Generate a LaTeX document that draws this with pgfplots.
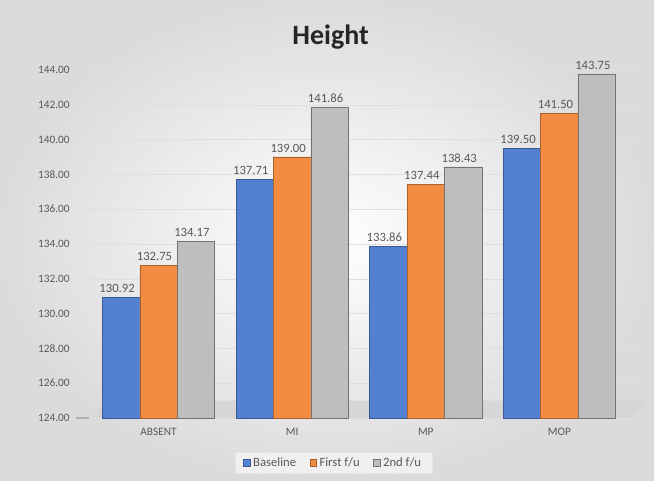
\documentclass[border=0pt]{standalone}
\usepackage{pgfplots}
\pgfplotsset{compat=1.18}
\usepackage{fontspec}
\setmainfont{Carlito}
\definecolor{cblue}{RGB}{84,128,210}
\definecolor{corange}{RGB}{242,140,66}
\definecolor{cgray}{RGB}{190,190,190}
\definecolor{txt}{RGB}{89,89,89}
\begin{document}
\begin{tikzpicture}
\shade[inner color=white, outer color=gray!28] (0,0) rectangle (490.5pt,360.75pt);
\node[font=\bfseries\fontsize{21}{24}\selectfont, text=black!85] at (248pt,333pt) {Height};
\begin{axis}[
  at={(63.75pt,47.25pt)}, anchor=south west,
  scale only axis, width=416pt, height=261pt,
  xmin=-0.55, xmax=3.6, ymin=124, ymax=144,
  ytick={124,126,...,144},
  yticklabel={\pgfmathprintnumber[fixed,fixed zerofill,precision=2]{\tick}},
  /pgf/number format/assume math mode=true,
  xtick=data, xticklabels={ABSENT,MI,MP,MOP},
  ybar=0pt, bar width=0.28,
  axis line style={draw=none},
  major tick length=0pt,
  ymajorgrids, grid style={gray!25},
  tick label style={font=\fontsize{8.5}{10}\selectfont, text=txt},
  yticklabel style={xshift=-8pt},
  xticklabel style={yshift=-4pt},
  clip=false,
  nodes near coords={\pgfmathprintnumber[fixed,fixed zerofill,precision=2]{\pgfplotspointmeta}},
  nodes near coords style={font=\fontsize{9.5}{11}\selectfont, text=txt, xshift=-3pt},
  legend style={at={(0.448,-0.129)}, anchor=center, legend columns=3,
    fill=gray!12, draw=gray!20, font=\fontsize{9.5}{11}\selectfont, text=txt,
    inner xsep=6pt,
    /tikz/every even column/.append style={column sep=8pt}},
  legend image code/.code={\draw[#1] (0cm,-0.09cm) rectangle (0.18cm,0.09cm);},
]
\fill[gray!32] (axis cs:-0.5,124) -- (axis cs:3.55,124) -- (axis cs:3.65,125) -- (axis cs:-0.4,125) -- cycle;
\draw[gray!60, line width=1pt] (axis cs:-0.62,124) -- (axis cs:-0.52,124);
\addplot[fill=cblue, draw=cblue!70!black] coordinates {(0,130.92) (1,137.71) (2,133.86) (3,139.50)};
\addplot[fill=corange, draw=corange!70!black] coordinates {(0,132.75) (1,139.00) (2,137.44) (3,141.50)};
\addplot[fill=cgray, draw=cgray!60!black] coordinates {(0,134.17) (1,141.86) (2,138.43) (3,143.75)};
\legend{Baseline, First f/u, 2nd f/u}
\end{axis}
\end{tikzpicture}
\end{document}
